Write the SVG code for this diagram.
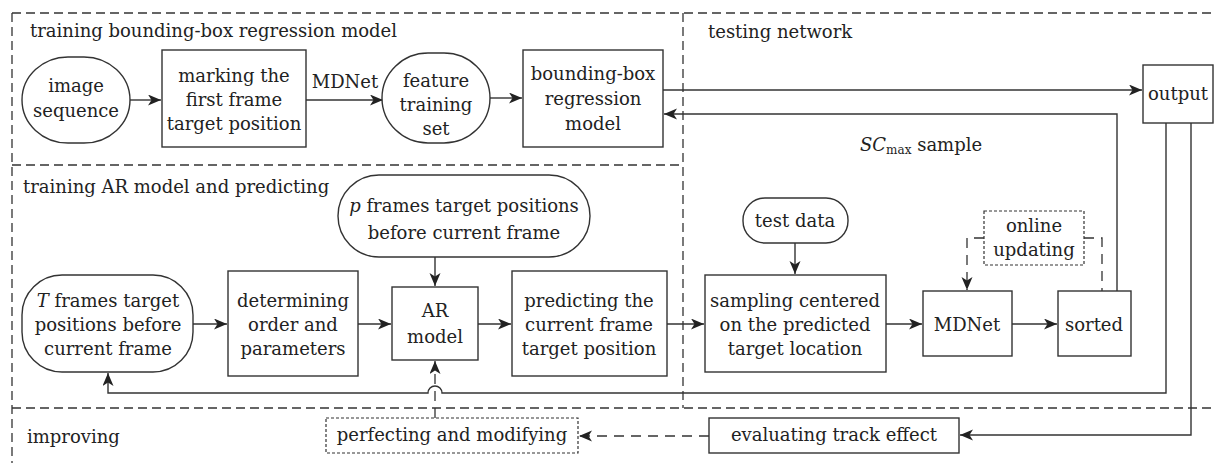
<svg xmlns="http://www.w3.org/2000/svg" width="1214" height="463" viewBox="0 0 1214 463">
<style>
text{font-family:"DejaVu Serif","Liberation Serif",serif;font-size:18px;fill:#222}
.c{text-anchor:middle}
.b{fill:#fff;stroke:#333;stroke-width:1.4}
.dot{fill:#fff;stroke:#333;stroke-width:1.2;stroke-dasharray:3 2}
.fr{fill:none;stroke:#333;stroke-width:1.3;stroke-dasharray:9 5}
.ln{fill:none;stroke:#333;stroke-width:1.4}
.dl{fill:none;stroke:#333;stroke-width:1.3;stroke-dasharray:10 7}
</style>
<defs>
<marker id="ah" markerUnits="userSpaceOnUse" markerWidth="14" markerHeight="12" refX="13" refY="5.5" orient="auto">
<path d="M0,0 L13,5.5 L0,11 L3.5,5.5 z" fill="#222"/>
</marker>
</defs>
<rect width="1214" height="463" fill="#fff"/>
<g id="frames">
<line class="fr" x1="12" y1="13" x2="1214" y2="13"/>
<line class="fr" x1="12" y1="13" x2="12" y2="463"/>
<line class="fr" x1="12" y1="165" x2="683" y2="165"/>
<line class="fr" x1="683" y1="13" x2="683" y2="408"/>
<line class="fr" x1="12" y1="408" x2="1214" y2="408"/>
<text x="30" y="37">training bounding-box regression model</text>
<text x="708" y="38">testing network</text>
<text x="23" y="193">training AR model and predicting</text>
<text x="27" y="443">improving</text>
</g>
<g id="connectors">
<line class="ln" x1="130" y1="100" x2="161" y2="100" marker-end="url(#ah)"/>
<line class="ln" x1="306" y1="100" x2="383" y2="100" marker-end="url(#ah)"/>
<text x="345" y="88" class="c">MDNet</text>
<line class="ln" x1="490" y1="98" x2="522" y2="98" marker-end="url(#ah)"/>
<line class="ln" x1="663" y1="90" x2="1142" y2="90" marker-end="url(#ah)"/>
<polyline class="ln" points="1117,291 1117,114 664,114" marker-end="url(#ah)"/>
<text x="860" y="151"><tspan font-style="italic">SC</tspan><tspan font-size="12" dy="3">max</tspan><tspan dy="-3"> sample</tspan></text>
<line class="ln" x1="435" y1="257" x2="435" y2="286" marker-end="url(#ah)"/>
<line class="ln" x1="193" y1="324" x2="227" y2="324" marker-end="url(#ah)"/>
<line class="ln" x1="358" y1="324" x2="391" y2="324" marker-end="url(#ah)"/>
<line class="ln" x1="478" y1="324" x2="511" y2="324" marker-end="url(#ah)"/>
<line class="ln" x1="667" y1="324" x2="704" y2="324" marker-end="url(#ah)"/>
<line class="ln" x1="795" y1="243" x2="795" y2="274" marker-end="url(#ah)"/>
<line class="ln" x1="886" y1="324" x2="922" y2="324" marker-end="url(#ah)"/>
<line class="ln" x1="1012" y1="324" x2="1057" y2="324" marker-end="url(#ah)"/>
<polyline class="dl" points="984,238 967,238 967,290" marker-end="url(#ah)"/>
<polyline class="dl" points="1084,238 1102,238 1102,291"/>
<path class="ln" d="M1166,123 L1166,393 L442,393 A7,7 0 0 0 428,393 L108,393 L108,373" marker-end="url(#ah)"/>
<polyline class="ln" points="1191,123 1191,435 960,435" marker-end="url(#ah)"/>
<line class="dl" x1="709" y1="436" x2="579" y2="436" marker-end="url(#ah)"/>
<line class="dl" x1="435" y1="418" x2="435" y2="361" marker-end="url(#ah)"/>
</g>
<g id="image-sequence">
<rect class="b" x="22" y="57" width="108" height="86" rx="46" ry="43"/>
<text class="c" x="76" y="92">image</text>
<text class="c" x="76" y="117">sequence</text>
</g>
<g id="marking">
<rect class="b" x="162" y="50" width="144" height="97"/>
<text class="c" x="234" y="82">marking the</text>
<text class="c" x="234" y="106">first frame</text>
<text class="c" x="234" y="130">target position</text>
</g>
<g id="feature-training-set">
<rect class="b" x="382" y="53" width="108" height="90" rx="46" ry="45"/>
<text class="c" x="436" y="87">feature</text>
<text class="c" x="436" y="111">training</text>
<text class="c" x="436" y="135">set</text>
</g>
<g id="bbox-model">
<rect class="b" x="523" y="50" width="140" height="97"/>
<text class="c" x="593" y="80">bounding-box</text>
<text class="c" x="593" y="105">regression</text>
<text class="c" x="593" y="130">model</text>
</g>
<g id="output">
<rect class="b" x="1143" y="65" width="70" height="58"/>
<text class="c" x="1178" y="100">output</text>
</g>
<g id="p-frames">
<rect class="b" x="338" y="175" width="252" height="82" rx="41"/>
<text class="c" x="464" y="212"><tspan font-style="italic">p</tspan> frames target positions</text>
<text class="c" x="464" y="239">before current frame</text>
</g>
<g id="t-frames">
<rect class="b" x="22" y="275" width="171" height="97" rx="40"/>
<text class="c" x="108" y="307"><tspan font-style="italic">T</tspan> frames target</text>
<text class="c" x="108" y="331">positions before</text>
<text class="c" x="108" y="355">current frame</text>
</g>
<g id="determining">
<rect class="b" x="228" y="271" width="130" height="105"/>
<text class="c" x="293" y="307">determining</text>
<text class="c" x="293" y="331">order and</text>
<text class="c" x="293" y="355">parameters</text>
</g>
<g id="ar-model">
<rect class="b" x="392" y="287" width="86" height="73"/>
<text class="c" x="435" y="317">AR</text>
<text class="c" x="435" y="343">model</text>
</g>
<g id="predicting">
<rect class="b" x="512" y="271" width="155" height="105"/>
<text class="c" x="589" y="307">predicting the</text>
<text class="c" x="589" y="331">current frame</text>
<text class="c" x="589" y="355">target position</text>
</g>
<g id="test-data">
<rect class="b" x="743" y="198" width="105" height="45" rx="22"/>
<text class="c" x="795" y="227">test data</text>
</g>
<g id="sampling">
<rect class="b" x="705" y="275" width="181" height="97"/>
<text class="c" x="795" y="307">sampling centered</text>
<text class="c" x="795" y="331">on the predicted</text>
<text class="c" x="795" y="355">target location</text>
</g>
<g id="mdnet">
<rect class="b" x="923" y="291" width="89" height="65"/>
<text class="c" x="967" y="331">MDNet</text>
</g>
<g id="sorted">
<rect class="b" x="1058" y="291" width="73" height="65"/>
<text class="c" x="1094" y="331">sorted</text>
</g>
<g id="online-updating">
<rect class="dot" x="984" y="211" width="100" height="54"/>
<text class="c" x="1034" y="232">online</text>
<text class="c" x="1034" y="256">updating</text>
</g>
<g id="perfecting">
<rect class="dot" x="326" y="418" width="252" height="35"/>
<text class="c" x="452" y="441">perfecting and modifying</text>
</g>
<g id="evaluating">
<rect class="b" x="709" y="418" width="250" height="35"/>
<text class="c" x="834" y="441">evaluating track effect</text>
</g>
</svg>
